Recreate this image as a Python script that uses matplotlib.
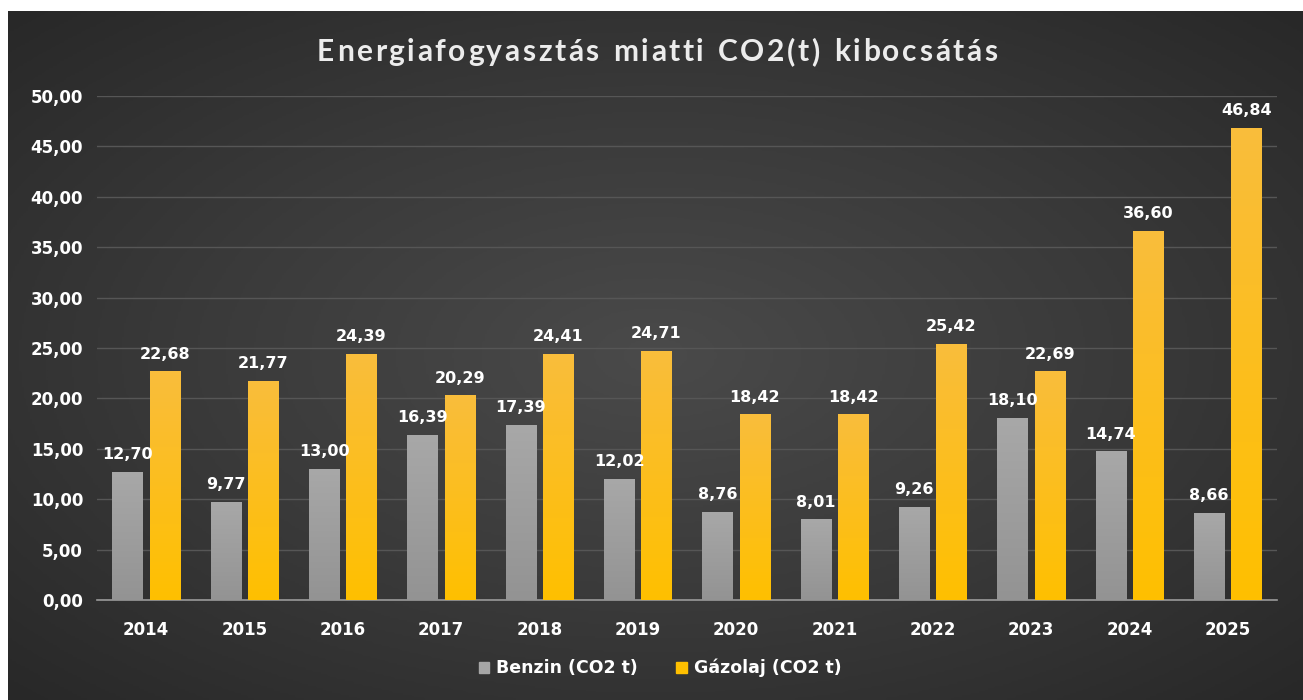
import matplotlib
matplotlib.use("Agg")
from matplotlib import pyplot as plt
from matplotlib.colors import LinearSegmentedColormap
from matplotlib.patches import Patch
import numpy as np

plt.rcParams['font.family'] = ['DejaVu Sans']

years = ['2014', '2015', '2016', '2017', '2018', '2019', '2020', '2021', '2022', '2023', '2024', '2025']
benzin = [12.70, 9.77, 13.00, 16.39, 17.39, 12.02, 8.76, 8.01, 9.26, 18.10, 14.74, 8.66]
gazolaj = [22.68, 21.77, 24.39, 20.29, 24.41, 24.71, 18.42, 18.42, 25.42, 22.69, 36.60, 46.84]
series_names = ['Benzin (CO2 t)', 'Gázolaj (CO2 t)']
y_ticks = [0, 5, 10, 15, 20, 25, 30, 35, 40, 45, 50]
title = 'Energiafogyasztás miatti CO2(t) kibocsátás'


def fmt(v):
    return f'{v:.2f}'.replace('.', ',')


W, H = 1303, 700
fig = plt.figure(figsize=(W / 100, H / 100), dpi=100)
fig.patch.set_facecolor('white')

# dark panel with radial gradient
bg = fig.add_axes([8 / W, 0, 1 - 8 / W, (H - 11) / H])
bg.set_axis_off()
yy, xx = np.mgrid[-1:1:300j, -1:1:600j]
r = np.sqrt(xx ** 2 + yy ** 2) / np.sqrt(2)
bg_cmap = LinearSegmentedColormap.from_list('bg', ['#4a4a4a', '#3a3a3a', '#282828'])
bg.imshow(r, cmap=bg_cmap, aspect='auto', extent=[0, 1, 0, 1])
bg.set_xlim(0, 1)
bg.set_ylim(0, 1)

ax = fig.add_axes([97 / W, 100 / H, 1180 / W, 504 / H])
ax.patch.set_alpha(0)
x = np.arange(len(years))
w = 0.31
off = 0.19

gray_cmap = LinearSegmentedColormap.from_list('g', ['#939393', '#a8a8a8'])
yel_cmap = LinearSegmentedColormap.from_list('y', ['#ffc000', '#f9bd3c'])

bars1 = ax.bar(x - off, benzin, w, color='#a0a0a0', zorder=3)
bars2 = ax.bar(x + off, gazolaj, w, color='#ffc000', zorder=3)

grad = np.linspace(0, 1, 256).reshape(-1, 1)
for bars, cm in [(bars1, gray_cmap), (bars2, yel_cmap)]:
    for b in bars:
        bx, by = b.get_x(), b.get_y()
        bw, bh = b.get_width(), b.get_height()
        im = ax.imshow(grad, cmap=cm, aspect='auto', origin='lower',
                       extent=[bx, bx + bw, by, by + bh], zorder=4)
        im.set_clip_path(b)

for xs, vals in [(x - off, benzin), (x + off, gazolaj)]:
    for xi, v in zip(xs, vals):
        ax.annotate(fmt(v), (xi, v), xytext=(0, 7), textcoords='offset points',
                    ha='center', va='bottom', color='white', fontsize=11.5,
                    fontweight='bold', zorder=5, annotation_clip=False)

ax.set_xlim(-0.5, len(years) - 0.5)
ax.set_ylim(0, 50)
ax.set_yticks(y_ticks)
ax.set_yticklabels([fmt(t) for t in y_ticks])
ax.set_xticks(x)
ax.set_xticklabels(years)
ax.tick_params(axis='both', length=0, colors='white', labelsize=12)
ax.tick_params(axis='x', pad=15)
ax.tick_params(axis='y', pad=10)
for lab in ax.get_xticklabels() + ax.get_yticklabels():
    lab.set_fontweight('bold')
ax.grid(axis='y', color='#565656', linewidth=1, zorder=0)
for s in ['top', 'right', 'left']:
    ax.spines[s].set_visible(False)
ax.spines['bottom'].set_color('#9a9a9a')
ax.spines['bottom'].set_linewidth(1.2)

# letter-spaced title, placed char by char
renderer = fig.canvas.get_renderer()
tkw = dict(color='#ececec', fontsize=21.5, fontweight='bold', family='Lato',
           va='center', ha='left')
widths = []
for ch in title:
    t = fig.text(0, 0, ch if ch != ' ' else 'n', **tkw)
    widths.append(t.get_window_extent(renderer).width * (0.55 if ch == ' ' else 1))
    t.remove()
target = 680
spacing = (target - sum(widths)) / (len(title) - 1)
xpos = 657 - target / 2
for ch, cw in zip(title, widths):
    if ch != ' ':
        fig.text(xpos / W, 1 - 52 / H, ch, **tkw)
    xpos += cw + spacing

handles = [Patch(color='#a6a6a6'), Patch(color='#ffc000')]
fig.legend(handles, series_names, loc='center', bbox_to_anchor=(660 / W, 1 - 668 / H),
           ncol=2, frameon=False, labelcolor='white',
           prop={'weight': 'bold', 'size': 12.5}, handlelength=0.6, handleheight=0.6,
           handletextpad=0.4, columnspacing=2.2)

fig.savefig('out.png', dpi=100)
